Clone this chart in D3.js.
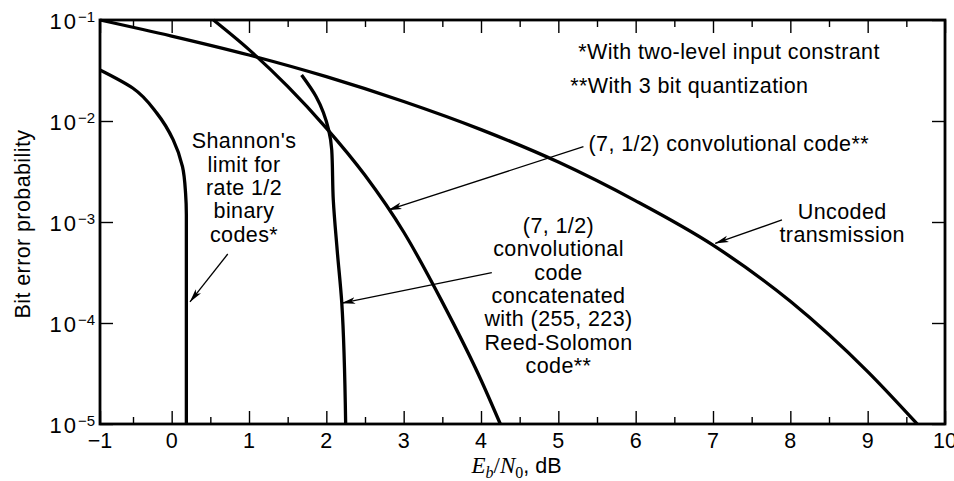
<!DOCTYPE html>
<html>
<head>
<meta charset="utf-8">
<script src="https://cdn.jsdelivr.net/npm/d3@7"></script>
<style>
body { margin: 0; background: #fff; }
text { font-family: "Liberation Sans", Arial, Helvetica, sans-serif; fill: #000; }
</style>
</head>
<body>
<div id="chart"></div>
<script>
// axis ticks
var xMajor = [-1, 0, 1, 2, 3, 4, 5, 6, 7, 8, 9, 10];
var xMinor = [-0.5, 0.5, 1.5, 2.5, 3.5, 4.5, 5.5, 6.5, 7.5, 8.5, 9.5];
var yExp = [-5, -4, -3, -2, -1];

// curves (Eb/N0 in dB, bit error probability)
var uncodedX = [-1, 0, 1, 2, 3, 4, 5, 6, 7, 8, 9, 9.64];
var uncodedP = [0.1, 0.0693, 0.045, 0.0275, 0.0156, 0.00822, 0.00392, 0.00162, 5.9e-4, 1.64e-4, 3.3e-5, 1e-5];

var convX = [0.54, 1, 1.5, 2, 2.5, 3, 3.5, 4, 4.25];
var convP = [0.1, 0.0509, 0.022, 0.00851, 0.0029, 7.96e-4, 1.61e-4, 2.73e-5, 1e-5];

var concatX = [1.68, 1.87, 2.03, 2.07, 2.09, 2.14, 2.2, 2.25];
var concatP = [0.0285, 0.0173, 0.00815, 0.00516, 0.00165, 5.3e-4, 1.57e-4, 1e-5];

var shannonX = [-1, -0.5, -0.19, 0.02, 0.14, 0.18, 0.19, 0.19];
var shannonP = [0.032, 0.0211, 0.0119, 0.0065, 0.00353, 0.00192, 0.00117, 1e-5];

var width = 954, height = 481;
var mLeft = 100, mRight = 945, mTop = 20, mBottom = 424;
var fs = 21.5, ls = '0.4px';

var svg = d3.select('#chart')
    .append('svg')
    .attr('width', width)
    .attr('height', height)

// the scanned original has its -1 tick slightly off the even grid
var x = d3.scaleLinear().domain([-1, -0.5, 10]).range([mLeft, 133, mRight]);
var y = d3.scaleLog().domain([1e-5, 1e-1]).range([mBottom, mTop]);

var defs = svg.append('defs');
defs.append('marker')
    .attr('id', 'arrow')
    .attr('viewBox', '0 0 14 8')
    .attr('refX', 13.5)
    .attr('refY', 4)
    .attr('markerWidth', 14)
    .attr('markerHeight', 8)
    .attr('markerUnits', 'userSpaceOnUse')
    .attr('orient', 'auto')
    .append('path')
    .attr('d', 'M0,0.6 L14,4 L0,7.4 L3.5,4 Z')
    .attr('fill', '#000');

// ticks, all pointing inward
function tickAxis(axis, pos, vals, len) {
    svg.append('g')
        .attr('transform', pos)
        .call(axis.tickValues(vals).tickSize(len).tickFormat(''))
        .call(function (g) {
            g.select('.domain').remove();
            g.selectAll('line').attr('stroke', '#000').attr('stroke-width', 1.4);
        });
}
tickAxis(d3.axisBottom(x), 'translate(0,' + mBottom + ')', xMajor, -13);
tickAxis(d3.axisBottom(x), 'translate(0,' + mBottom + ')', xMinor, -7);
tickAxis(d3.axisTop(x), 'translate(0,' + mTop + ')', xMajor, -13);
tickAxis(d3.axisTop(x), 'translate(0,' + mTop + ')', xMinor, -7);
var yVals = yExp.map(function (e) { return Math.pow(10, e); });
tickAxis(d3.axisLeft(y), 'translate(' + mLeft + ',0)', yVals, -13);
tickAxis(d3.axisRight(y), 'translate(' + mRight + ',0)', yVals, -13);

// frame
svg.append('rect')
    .attr('x', mLeft)
    .attr('y', mTop)
    .attr('width', mRight - mLeft)
    .attr('height', mBottom - mTop)
    .attr('fill', 'none')
    .attr('stroke', '#000')
    .attr('stroke-width', 2.8);

// x tick labels
svg.append('g').selectAll('text')
    .data(xMajor)
    .enter()
    .append('text')
    .attr('x', function (d) { return x(d); })
    .attr('y', mBottom + 24)
    .attr('text-anchor', 'middle')
    .attr('font-size', fs)
    .text(function (d) { return d < 0 ? '\u2212' + Math.abs(d) : d; });

// y tick labels 10^n
var ylab = svg.append('g').selectAll('text')
    .data(yExp)
    .enter()
    .append('text')
    .attr('x', 95)
    .attr('y', function (d) { return y(Math.pow(10, d)) + 9; })
    .attr('text-anchor', 'end')
    .attr('font-size', 22);
ylab.append('tspan').attr('letter-spacing', '2px').text('10');
ylab.append('tspan')
    .attr('font-size', 15)
    .attr('dy', -7)
    .text(function (d) { return '\u2212' + Math.abs(d); });

// axis titles
svg.append('text')
    .attr('transform', 'translate(30,' + ((mTop + mBottom) / 2 + 2) + ') rotate(-90)')
    .attr('text-anchor', 'middle')
    .attr('font-size', fs)
    .attr('letter-spacing', ls)
    .text('Bit error probability');

var serif = '"Liberation Serif", "Times New Roman", serif';
var xt = svg.append('text')
    .attr('x', (mLeft + mRight) / 2 - 6)
    .attr('y', 473)
    .attr('text-anchor', 'middle')
    .attr('font-size', 23);
xt.append('tspan').attr('font-family', serif).attr('font-style', 'italic').text('E');
xt.append('tspan').attr('font-family', serif).attr('font-style', 'italic').attr('font-size', 16).attr('dy', 5).text('b');
xt.append('tspan').attr('font-family', serif).attr('dy', -5).text('/');
xt.append('tspan').attr('font-family', serif).attr('font-style', 'italic').text('N');
xt.append('tspan').attr('font-family', serif).attr('font-size', 16).attr('dy', 5).text('0');
xt.append('tspan').attr('dy', -5).attr('font-size', fs).text(', dB');

// curves
function zip(xs, ps) {
    return xs.map(function (v, i) { return [v, ps[i]]; });
}
var curves = [
    { pts: zip(uncodedX, uncodedP), curve: d3.curveMonotoneX },
    { pts: zip(convX, convP), curve: d3.curveMonotoneX },
    { pts: zip(concatX, concatP), curve: d3.curveMonotoneY },
    { pts: zip(shannonX, shannonP), curve: d3.curveMonotoneY }
];
curves.forEach(function (c) {
    var line = d3.line()
        .x(function (d) { return x(d[0]); })
        .y(function (d) { return y(d[1]); })
        .curve(c.curve);
    svg.append('path')
        .attr('d', line(c.pts))
        .attr('fill', 'none')
        .attr('stroke', '#000')
        .attr('stroke-width', 3.3);
});

// annotations, placed in data units
var notes = [
    { lines: ['*With two-level input constrant'], x: 5.257, p: 0.0411, anchor: 'start' },
    { lines: ['**With 3 bit quantization'], x: 5.153, p: 0.0189, anchor: 'start' },
    { lines: ['(7, 1/2) convolutional code**'], x: 5.39, p: 5.05e-3, anchor: 'start' },
    { lines: ['Uncoded', 'transmission'], x: 8.671, p: 1.07e-3, anchor: 'middle' },
    { lines: ["Shannon's", 'limit for', 'rate 1/2', 'binary', 'codes*'], x: 0.936, p: 5.37e-3, anchor: 'middle' },
    { lines: ['(7, 1/2)', 'convolutional', 'code', 'concatenated', 'with (255, 223)', 'Reed-Solomon', 'code**'], x: 5.002, p: 7.83e-4, anchor: 'middle' }
];
notes.forEach(function (n) {
    var t = svg.append('text')
        .attr('text-anchor', n.anchor)
        .attr('font-size', fs)
        .attr('letter-spacing', ls)
        .attr('y', y(n.p));
    n.lines.forEach(function (s, i) {
        t.append('tspan')
            .attr('x', x(n.x))
            .attr('dy', i === 0 ? 0 : 23.4)
            .text(s);
    });
});

var leaders = [
    { x0: 5.325, p0: 5.57e-3, x1: 2.803, p1: 1.315e-3 },
    { x0: 7.892, p0: 1.047e-3, x1: 7.029, p1: 6.15e-4 },
    { x0: 0.725, p0: 4.82e-4, x1: 0.237, p1: 1.62e-4 },
    { x0: 4.14, p0: 3.15e-4, x1: 2.2, p1: 1.57e-4 }
];
svg.append('g').selectAll('line')
    .data(leaders)
    .enter()
    .append('line')
    .attr('x1', function (d) { return x(d.x0); })
    .attr('y1', function (d) { return y(d.p0); })
    .attr('x2', function (d) { return x(d.x1); })
    .attr('y2', function (d) { return y(d.p1); })
    .attr('stroke', '#000')
    .attr('stroke-width', 1.3)
    .attr('marker-end', 'url(#arrow)');
</script>
</body>
</html>
